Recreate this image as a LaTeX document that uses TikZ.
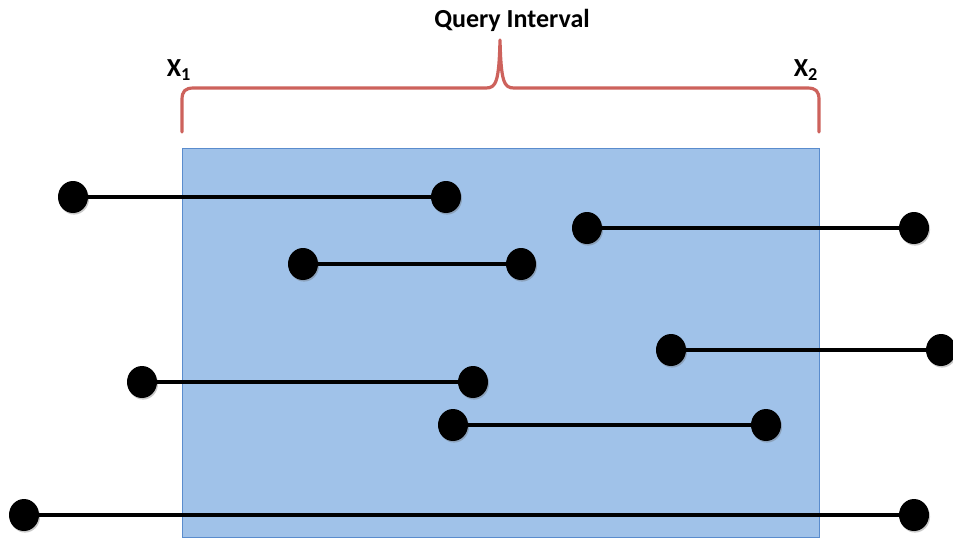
\documentclass[tikz,border=0pt]{standalone}
\usepackage{fontspec}
\setmainfont{Carlito}
\usetikzlibrary{shapes.geometric,shadows}
\definecolor{qfill}{RGB}{160,194,233}
\definecolor{qedge}{RGB}{90,140,205}
\definecolor{brace}{RGB}{205,98,92}
\tikzset{
  dot/.style={ellipse,fill=black,inner sep=0pt,minimum width=22.5pt,minimum height=24pt,
    drop shadow={shadow xshift=0.8pt,shadow yshift=-1.2pt,opacity=0.35,fill=black!60}},
  seg/.style={draw=black,line width=2.5pt},
  lbl/.style={font=\bfseries\fontsize{19.5}{21}\selectfont,inner sep=0pt},
}
\begin{document}
\begin{tikzpicture}[x=0.75pt,y=-0.75pt]
\useasboundingbox (0,0) rectangle (953,540);
\fill[white] (0,0) rectangle (953,540);
% query region
\draw[fill=qfill,draw=qedge,line width=0.6pt] (182,148) rectangle (819,537);
% brace
\draw[brace,line width=2.4pt,line cap=round,line join=round]
  (182,132) -- (182,100) .. controls (182,91) and (185,88) .. (194,88)
  -- (486,88) .. controls (496,88) and (499,82) .. (500,40)
  .. controls (501,82) and (504,88) .. (514,88)
  -- (807,88) .. controls (816,88) and (819,91) .. (819,100) -- (819,132);
\node[lbl] (title) at (512,20) {Query Interval};
\node[lbl] (x1) at (179,70) {X\textsubscript{1}};
\node[lbl] (x2) at (806,70) {X\textsubscript{2}};
% interval endpoints
\node[dot] (a1) at (73,197) {};
\node[dot] (a2) at (446,197) {};
\node[dot] (b1) at (587,228) {};
\node[dot] (b2) at (914,228) {};
\node[dot] (c1) at (303,264) {};
\node[dot] (c2) at (521,264) {};
\node[dot] (d1) at (671,350) {};
\node[dot] (d2) at (941,350) {};
\node[dot] (e1) at (142,382) {};
\node[dot] (e2) at (473,382) {};
\node[dot] (f1) at (453,425) {};
\node[dot] (f2) at (766,425) {};
\node[dot] (g1) at (24,515) {};
\node[dot] (g2) at (914,515) {};
% segments
\draw[seg] (a1) -- (a2);
\draw[seg] (b1) -- (b2);
\draw[seg] (c1) -- (c2);
\draw[seg] (d1) -- (d2);
\draw[seg] (e1) -- (e2);
\draw[seg] (f1) -- (f2);
\draw[seg] (g1) -- (g2);
\end{tikzpicture}
\end{document}
